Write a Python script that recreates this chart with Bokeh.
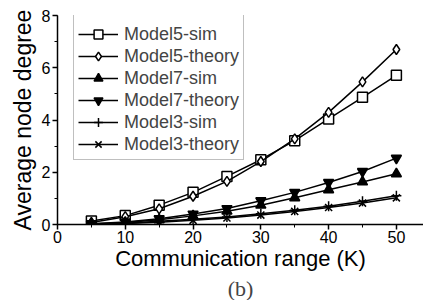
from bokeh.plotting import figure
from bokeh.models import Range1d, SingleIntervalTicker, Legend, LegendItem, Title
from bokeh.embed import file_html
from bokeh.resources import INLINE

K = [5, 10, 15, 20, 25, 30, 35, 40, 45, 50]
model5_sim = [0.13, 0.34, 0.74, 1.23, 1.84, 2.48, 3.21, 4.04, 4.87, 5.71]
model5_theory = [0.08, 0.30, 0.60, 1.08, 1.65, 2.41, 3.28, 4.29, 5.46, 6.70]
model7_sim = [0.02, 0.08, 0.18, 0.33, 0.51, 0.74, 1.02, 1.33, 1.63, 1.94]
model7_theory = [0.03, 0.10, 0.22, 0.40, 0.61, 0.91, 1.23, 1.61, 2.03, 2.54]
model3_sim = [0.01, 0.05, 0.12, 0.20, 0.29, 0.41, 0.55, 0.70, 0.89, 1.10]
model3_theory = [0.01, 0.04, 0.09, 0.16, 0.25, 0.36, 0.50, 0.65, 0.82, 1.02]

series = [
    ("Model5-sim", model5_sim, "square", "white"),
    ("Model5-theory", model5_theory, "diamond", "white"),
    ("Model7-sim", model7_sim, "triangle", "black"),
    ("Model7-theory", model7_theory, "inverted_triangle", "black"),
    ("Model3-sim", model3_sim, "cross", "black"),
    ("Model3-theory", model3_theory, "x", "black"),
]

p = figure(width=423, height=300, output_backend="svg", toolbar_location=None,
           x_range=Range1d(0, 54), y_range=Range1d(0, 8),
           min_border_left=57, min_border_right=0, min_border_top=15, min_border_bottom=40)
p.outline_line_color = None
p.xgrid.visible = False
p.ygrid.visible = False
p.background_fill_color = "white"

FONT = "Liberation Sans"
for ax in (p.xaxis[0], p.yaxis[0]):
    ax.axis_line_width = 1.5
    ax.axis_line_color = "black"
    ax.major_tick_line_color = "black"
    ax.minor_tick_line_color = "black"
    ax.major_tick_line_width = 1.5
    ax.major_tick_out = 5
    ax.major_tick_in = 0
    ax.minor_tick_out = 3
    ax.minor_tick_in = 0
    ax.major_label_text_font = FONT
    ax.major_label_text_font_size = "16px"
    ax.major_label_text_color = "black"
    ax.axis_label_text_font = FONT
    ax.axis_label_text_font_style = "normal"
    ax.axis_label_text_color = "black"

p.xaxis.axis_label_text_font_size = "22px"
p.yaxis.axis_label_text_font_size = "23px"
p.xaxis.ticker = SingleIntervalTicker(interval=10, num_minor_ticks=2)
p.yaxis.ticker = SingleIntervalTicker(interval=2, num_minor_ticks=2)
p.xaxis.axis_label = "Communication range (K)"
p.yaxis.axis_label = "Average node degree"
p.xaxis.major_label_standoff = 1
p.yaxis.major_label_standoff = 2
p.xaxis.axis_label_standoff = 0
p.yaxis.axis_label_standoff = 3

items = []
for name, vals, marker, fill in series:
    r1 = p.line(K, vals, line_color="black", line_width=1.5)
    r2 = p.scatter(K, vals, marker=marker, size=10, line_color="black",
                   fill_color=fill, line_width=1.5)
    items.append(LegendItem(label=name, renderers=[r1, r2]))

legend = Legend(items=items, location=(16, 64), label_text_font=FONT,
                label_text_font_size="18px", label_height=22, glyph_height=22,
                glyph_width=40, spacing=0, padding=4, margin=0, label_standoff=6,
                title=" ", title_text_font_size="4px", title_standoff=0,
                border_line_color="gray", border_line_width=1,
                background_fill_alpha=1.0)
p.add_layout(legend, "center")

p.add_layout(Title(text="(b)", align="center", text_font="Liberation Serif",
                   text_font_size="22px", text_font_style="normal",
                   standoff=0), "below")

open("out.html", "w").write(file_html(p, INLINE))
